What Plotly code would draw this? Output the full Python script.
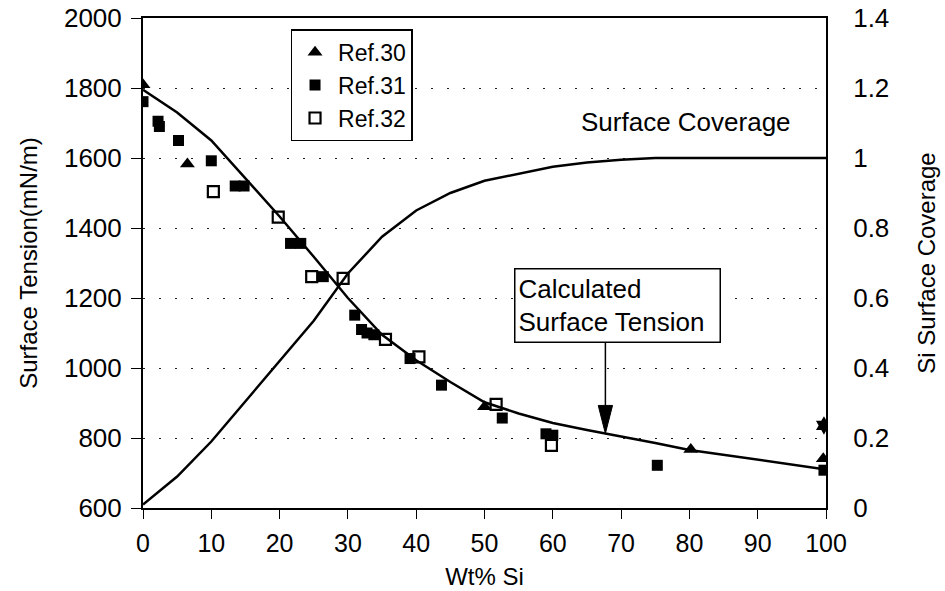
import plotly.graph_objects as go

# ---- data ----
calc_x = [0, 5, 10, 15, 20, 25, 30, 35, 40, 45, 50, 55, 60, 65, 70, 75, 80, 85, 90, 95, 100]
calc_tension = [1795, 1730, 1650, 1541, 1433, 1318, 1200, 1095, 1022, 960, 902, 870, 843, 823, 805, 786, 766, 752, 738, 724, 710]
coverage = [0.01, 0.09, 0.19, 0.305, 0.42, 0.535, 0.67, 0.775, 0.85, 0.9, 0.935, 0.955, 0.975, 0.987, 0.995, 1.0, 1.0, 1.0, 1.0, 1.0, 1.0]

ref30_x = [0, 6.5, 50.0, 80.2, 99.6]
ref30_y = [1809, 1583, 889, 767, 741]

ref31_x = [0, 2.2, 2.4, 5.2, 10.0, 13.5, 14.8, 21.6, 23.1, 26.4, 31.0, 32.0, 32.8, 33.8, 39.1, 43.7, 52.6, 59.0, 60.0, 75.3, 99.7]
ref31_y = [1761, 1705, 1690, 1650, 1592, 1520, 1520, 1356, 1356, 1261, 1151, 1110, 1100, 1095, 1027, 951, 857, 812, 808, 722, 708]

ref32_x = [10.3, 19.8, 24.7, 29.3, 35.5, 40.4, 51.7, 59.8]
ref32_y = [1504, 1431, 1261, 1256, 1082, 1032, 896, 779]

star_x = [99.7]
star_y = [836]

x_ticks = [0, 10, 20, 30, 40, 50, 60, 70, 80, 90, 100]

# annotation anchors (data units)
ARROW_X = 67.7
ARROW_TIP = 813
ARROW_TAIL = 1074
HEAD_LEN = 80
HEAD_HALF = 1.05

FONT = "Liberation Sans, Arial, Helvetica, sans-serif"

fig = go.Figure()

fig.add_trace(go.Scatter(x=calc_x, y=calc_tension, mode="lines",
                         line=dict(color="black", width=2.5), showlegend=False, hoverinfo="skip"))
fig.add_trace(go.Scatter(x=calc_x, y=coverage, mode="lines", yaxis="y2",
                         line=dict(color="black", width=2.5), showlegend=False, hoverinfo="skip"))

fig.add_trace(go.Scatter(x=ref30_x, y=ref30_y, mode="markers", name="Ref.30",
                         marker=dict(symbol="triangle-up", size=13, color="black")))
fig.add_trace(go.Scatter(x=ref31_x, y=ref31_y, mode="markers", name="Ref.31",
                         marker=dict(symbol="square", size=11, color="black")))
fig.add_trace(go.Scatter(x=ref32_x, y=ref32_y, mode="markers", name="Ref.32",
                         marker=dict(symbol="square-open", size=11, color="black",
                                     line=dict(width=2.2, color="black"))))
fig.add_trace(go.Scatter(x=star_x, y=star_y, mode="markers", showlegend=False,
                         marker=dict(symbol="hexagram", size=14, color="black")))

# arrow line and head
fig.add_shape(type="line", xref="x", yref="y", x0=ARROW_X, x1=ARROW_X,
              y0=ARROW_TAIL, y1=ARROW_TIP + HEAD_LEN, line=dict(color="black", width=1.5))
fig.add_shape(type="path", xref="x", yref="y",
              path=f"M {ARROW_X-HEAD_HALF},{ARROW_TIP+HEAD_LEN} L {ARROW_X+HEAD_HALF},{ARROW_TIP+HEAD_LEN} L {ARROW_X},{ARROW_TIP} Z",
              fillcolor="black", line=dict(color="black", width=1))

fig.add_annotation(x=69.5, y=1178, xref="x", yref="y", showarrow=False,
                   text="Calculated<br>Surface Tension", align="left",
                   width=198, height=66, borderpad=3,
                   bordercolor="black", borderwidth=1.5, bgcolor="white",
                   font=dict(family=FONT, size=26, color="black"))
fig.add_annotation(x=79.5, y=1704, xref="x", yref="y", showarrow=False,
                   text="Surface Coverage",
                   font=dict(family=FONT, size=26, color="black"))

fig.update_layout(
    width=945, height=591,
    margin=dict(l=143, r=119, t=18, b=83, autoexpand=False),
    paper_bgcolor="white", plot_bgcolor="white",
    font=dict(family=FONT, size=24, color="black"),
    legend=dict(x=0.216, y=0.977, xanchor="left", yanchor="top",
                bordercolor="black", borderwidth=1.5, bgcolor="white",
                font=dict(family=FONT, size=23, color="black"),
                tracegroupgap=0, itemwidth=36),
    xaxis=dict(range=[0, 100], tickvals=x_ticks, showgrid=False, zeroline=False,
               showline=True, linecolor="black", linewidth=2, mirror=True,
               ticks="outside", ticklen=9, tickwidth=1.2, tickcolor="black",
               ticklabelstandoff=3,
               title=dict(text="Wt% Si", standoff=12, font=dict(size=24)),
               tickfont=dict(size=25)),
    yaxis=dict(range=[600, 2000], dtick=200, showgrid=True,
               gridcolor="#222", gridwidth=1.3, griddash="2px,14px",
               zeroline=False, showline=True, linecolor="black", linewidth=2,
               ticks="outside", ticklen=10, tickwidth=1.2, tickcolor="black",
               ticklabelstandoff=4,
               title=dict(text="Surface Tension(mN/m)", standoff=20, font=dict(size=24)),
               tickfont=dict(size=26)),
    yaxis2=dict(range=[0, 1.4], dtick=0.2, overlaying="y", side="right",
                showgrid=False, zeroline=False, showline=True, linecolor="black",
                linewidth=2, ticks="", ticklabelstandoff=20,
                title=dict(text="Si Surface Coverage", standoff=30, font=dict(size=24)),
                tickfont=dict(size=26)),
)

fig.write_html("out.html")
